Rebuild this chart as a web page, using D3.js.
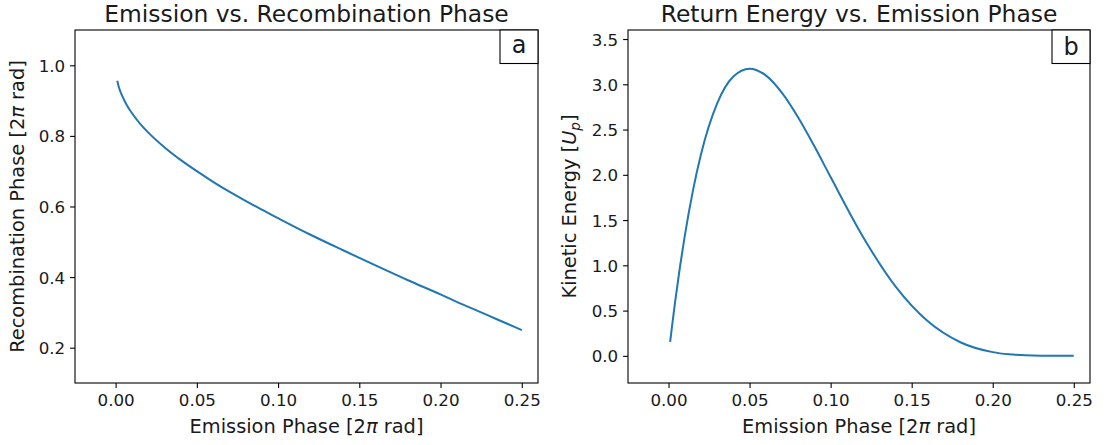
<!DOCTYPE html>
<html>
<head>
<meta charset="utf-8">
<script src="https://cdn.jsdelivr.net/npm/d3@7"></script>
<style>
  html, body { margin: 0; padding: 0; background: #fff; }
  svg { display: block; }
  text { font-family: "DejaVu Sans", sans-serif; fill: #1a1a1a; }
</style>
</head>
<body>
<svg id="chart" width="1107" height="445"></svg>
<script>
// ---- data ----
const emissionPhase = [0.001, 0.002, 0.004, 0.007, 0.010, 0.015, 0.020, 0.030, 0.040, 0.050,
                       0.060, 0.070, 0.080, 0.090, 0.100, 0.120, 0.140, 0.160, 0.180, 0.200,
                       0.210, 0.220, 0.230, 0.240, 0.250];
const recombinationPhase = [0.956, 0.938, 0.914, 0.886, 0.865, 0.835, 0.810, 0.768, 0.732, 0.700,
                            0.670, 0.642, 0.616, 0.591, 0.567, 0.520, 0.476, 0.433, 0.391, 0.351,
                            0.330, 0.310, 0.290, 0.270, 0.250];
const kineticEnergy = [0.155, 0.304, 0.588, 0.976, 1.323, 1.820, 2.224, 2.789, 3.087, 3.173,
                       3.099, 2.906, 2.634, 2.315, 1.975, 1.314, 0.767, 0.381, 0.150, 0.041,
                       0.017, 0.0056, 0.0011, 0.0001, 0.0];
const xTicks = [0.00, 0.05, 0.10, 0.15, 0.20, 0.25];
const yTicksA = [0.2, 0.4, 0.6, 0.8, 1.0];
const yTicksB = [0.0, 0.5, 1.0, 1.5, 2.0, 2.5, 3.0, 3.5];
const titles = ["Emission vs. Recombination Phase", "Return Energy vs. Emission Phase"];
const panelLetters = ["a", "b"];

// ---- layout ----
const svg = d3.select("#chart");
svg.append("rect").attr("width", 1107).attr("height", 445).attr("fill", "#fff");

const TICK_FS = 16.7, LABEL_FS = 19.4, TITLE_FS = 23.4, LETTER_FS = 24;
const plotTop = 30, plotBottom = 383;
const xDomain = [-0.025, 0.26];

const panels = [
  { left: 75, right: 538, yDomain: [0.1, 1.1], yTicks: yTicksA, ys: recombinationPhase,
    title: titles[0], letter: panelLetters[0], ylabelX: 24, ylabel: "recomb" },
  { left: 628, right: 1090, yDomain: [-0.3, 3.6], yTicks: yTicksB, ys: kineticEnergy,
    title: titles[1], letter: panelLetters[1], ylabelX: 575.5, ylabel: "energy" }
];

panels.forEach(p => {
  const x = d3.scaleLinear().domain(xDomain).range([p.left, p.right]);
  const y = d3.scaleLinear().domain(p.yDomain).range([plotBottom, plotTop]);
  const g = svg.append("g");

  // line
  const data = emissionPhase.map((e, i) => [e, p.ys[i]]);
  g.append("path")
    .datum(data)
    .attr("fill", "none")
    .attr("stroke", "#1f77b4")
    .attr("stroke-width", 2)
    .attr("stroke-linejoin", "round")
    .attr("stroke-linecap", "butt")
    .attr("d", d3.line().x(d => x(d[0])).y(d => y(d[1])).curve(d3.curveMonotoneX));

  // x axis
  const xa = g.append("g").attr("transform", `translate(0,${plotBottom})`)
    .call(d3.axisBottom(x).tickValues(xTicks).tickFormat(d3.format(".2f"))
      .tickSize(4.9).tickSizeOuter(0).tickPadding(4.9));
  xa.select(".domain").remove();
  xa.selectAll("line").attr("stroke", "#000").attr("stroke-width", 1.1);
  xa.selectAll("text").attr("font-size", TICK_FS).attr("font-family", "DejaVu Sans")
    .attr("fill", "#1a1a1a").attr("dy", "0.72em").attr("y", 10.5);

  // y axis
  const ya = g.append("g").attr("transform", `translate(${p.left},0)`)
    .call(d3.axisLeft(y).tickValues(p.yTicks).tickFormat(d3.format(".1f"))
      .tickSize(4.9).tickSizeOuter(0).tickPadding(4.9));
  ya.select(".domain").remove();
  ya.selectAll("line").attr("stroke", "#000").attr("stroke-width", 1.1);
  ya.selectAll("text").attr("font-size", TICK_FS).attr("font-family", "DejaVu Sans")
    .attr("fill", "#1a1a1a").attr("dy", "0.36em");

  // frame
  g.append("rect")
    .attr("x", p.left).attr("y", plotTop)
    .attr("width", p.right - p.left).attr("height", plotBottom - plotTop)
    .attr("fill", "none").attr("stroke", "#000").attr("stroke-width", 1.1);

  // panel letter box
  const bw = 38, bh = 33.5;
  g.append("rect")
    .attr("x", p.right - bw).attr("y", plotTop)
    .attr("width", bw).attr("height", bh)
    .attr("fill", "#fff").attr("stroke", "#000").attr("stroke-width", 1.1);
  g.append("text")
    .attr("x", p.right - bw / 2).attr("y", plotTop + bh / 2)
    .attr("dy", p.letter === "a" ? "0.27em" : "0.36em")
    .attr("text-anchor", "middle")
    .attr("font-size", LETTER_FS)
    .text(p.letter);

  // title
  g.append("text")
    .attr("x", (p.left + p.right) / 2).attr("y", 22)
    .attr("text-anchor", "middle")
    .attr("font-size", TITLE_FS)
    .text(p.title);

  // x label
  const xl = g.append("text")
    .attr("x", (p.left + p.right) / 2).attr("y", 433)
    .attr("text-anchor", "middle")
    .attr("font-size", LABEL_FS);
  xl.append("tspan").text("Emission Phase [2");
  xl.append("tspan").attr("font-style", "italic").text("π");
  xl.append("tspan").text(" rad]");

  // y label
  const yl = g.append("text")
    .attr("transform", `translate(${p.ylabelX},${(plotTop + plotBottom) / 2}) rotate(-90)`)
    .attr("text-anchor", "middle")
    .attr("font-size", LABEL_FS);
  if (p.ylabel === "recomb") {
    yl.append("tspan").text("Recombination Phase [2");
    yl.append("tspan").attr("font-style", "italic").text("π");
    yl.append("tspan").text(" rad]");
  } else {
    yl.append("tspan").text("Kinetic Energy [");
    yl.append("tspan").attr("font-style", "italic").text("U");
    yl.append("tspan").attr("font-style", "italic").attr("font-size", LABEL_FS * 0.7)
      .attr("dy", 4).text("p");
    yl.append("tspan").attr("dy", -4).text("]");
  }
});
</script>
</body>
</html>
